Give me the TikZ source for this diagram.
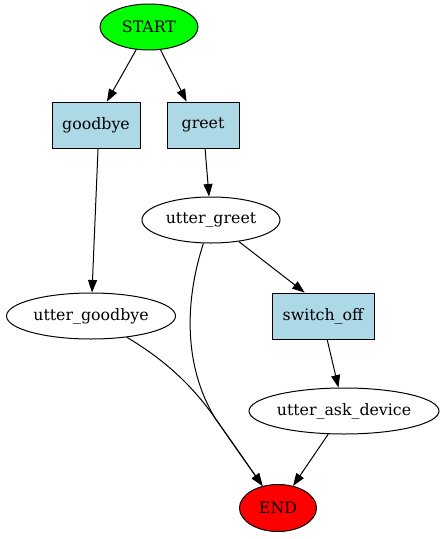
\documentclass[tikz,border=0pt]{standalone}
\usepackage{fontspec}
\setmainfont{DejaVu Serif}
\usetikzlibrary{shapes.geometric,arrows.meta}
\definecolor{lblue}{RGB}{173,216,230}
\tikzset{
  every node/.style={font=\fontsize{15.8}{18}\selectfont, inner sep=0pt},
  ell/.style={draw, ellipse, line width=1pt, minimum height=46pt},
  box/.style={draw, rectangle, fill=lblue, line width=0.85pt, minimum height=46pt},
  edge/.style={line width=1pt, -{Triangle[length=12.5pt,width=9pt]}},
}
\begin{document}
\begin{tikzpicture}[x=1pt,y=-1pt]
\useasboundingbox (0,0) rectangle (446,539);
\node[ell, fill=green, minimum width=98pt] (start) at (149,27) {START};
\node[box, minimum width=88pt] (goodbye) at (96,125) {goodbye};
\node[box, minimum width=72pt] (greet) at (203,125) {greet};
\node[ell, minimum width=138pt] (ugreet) at (211,220) {utter\_greet};
\node[ell, minimum width=169pt] (ugoodbye) at (91,316) {utter\_goodbye};
\node[box, minimum width=102pt] (switch) at (323,316) {switch\_off};
\node[ell, minimum width=190pt] (uask) at (344,411) {utter\_ask\_device};
\node[ell, fill=red, minimum width=77pt, minimum height=47pt] (end) at (278,508) {END};

\draw[edge] (start) -- (goodbye.65);
\draw[edge] (start) -- (greet.125);
\draw[edge] (goodbye.-85) -- (ugoodbye);
\draw[edge] (greet.-85) -- (ugreet);
\draw[edge] (ugreet) -- (switch.128);
\draw[edge] (switch.-80) -- (uask);
\draw[edge] (uask) -- (end);
\draw[edge] (ugreet) .. controls (185,300) and (183,365) .. (215,418) -- (end);
\draw[edge] (ugoodbye) .. controls (160,357) and (190,382) .. (215,418) -- (end);
\end{tikzpicture}
\end{document}
